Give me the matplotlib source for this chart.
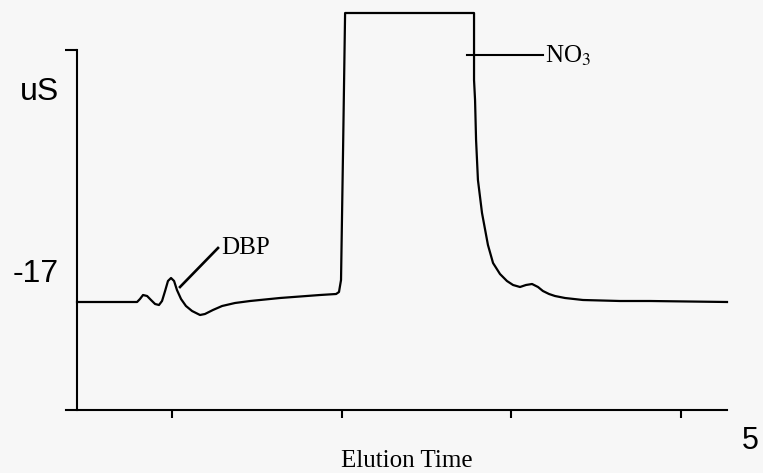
import matplotlib
matplotlib.use("Agg")
import matplotlib.pyplot as plt

# --- data (time in axis units, signal in arbitrary units)
time = [0.440, 0.794, 0.811, 0.829, 0.853, 0.876, 0.900, 0.923, 0.941, 0.959,
        0.976, 0.994, 1.012, 1.029, 1.053, 1.082, 1.118, 1.165, 1.194, 1.241,
        1.295, 1.371, 1.460, 1.636, 1.872, 1.967, 1.984, 1.996, 2.008, 2.020,
        2.780, 2.780, 2.786, 2.792, 2.803, 2.827, 2.862, 2.892, 2.933, 2.974,
        3.010, 3.051, 3.086, 3.122, 3.157, 3.186, 3.222, 3.257, 3.316, 3.422,
        3.640, 3.817, 4.271]
signal = [108, 108, 111, 115, 114, 110, 106, 105, 109, 119,
          129, 132, 129, 120, 111, 104, 99, 95, 96, 100,
          104, 107, 109, 112, 115, 116, 118, 130, 260, 397,
          397, 330, 310, 270, 230, 197, 165, 147, 136, 129,
          125, 123, 125, 126, 123, 119, 116, 114, 112, 110,
          109, 109, 108]
x_ticks = [1, 2, 3, 4]
y_label_value = "-17"
y_unit = "uS"
x_end_label = "5"
x_title = "Elution Time"
peak_labels = ["DBP", "NO$_3$"]

plt.rcParams["mathtext.fontset"] = "stix"

W, H = 763, 473
fig = plt.figure(figsize=(W / 100, H / 100), dpi=100)
bg = "#f7f7f7"
fig.patch.set_facecolor(bg)

ax = fig.add_axes([66 / W, (H - 410) / H, (727 - 66) / W, 360 / H])
ax.set_facecolor(bg)
ax.set_xlim(0.375, 4.271)
ax.set_ylim(0, 360)

ax.plot(time, signal, color="black", lw=1.6, clip_on=False, solid_joinstyle="round")

for s in ["top", "right"]:
    ax.spines[s].set_visible(False)
ax.spines["left"].set_position(("data", 0.440))
ax.spines["left"].set_bounds(0, 360)
for s in ["left", "bottom"]:
    ax.spines[s].set_linewidth(1.5)

ax.set_xticks(x_ticks)
ax.set_xticklabels([])
ax.tick_params(axis="x", direction="out", length=6, width=1.5)
ax.set_yticks([360])
ax.set_yticklabels([])
ax.tick_params(axis="y", direction="out", length=9, width=1.5)

# peak labels with leader lines
ax.plot([1.047, 1.271], [123, 162], color="black", lw=1.9, clip_on=False)
ax.text(1.290, 162, peak_labels[0], fontsize=18, family="Liberation Serif",
        va="center", ha="left")
ax.plot([2.739, 3.186], [355, 355], color="black", lw=1.5, clip_on=False)
ax.text(3.198, 354, peak_labels[1], fontsize=18, family="Liberation Serif",
        va="center", ha="left", clip_on=False)

def fx(px):
    return px / W

def fy(py):
    return 1 - py / H

sans = "Liberation Sans"
fig.text(fx(39), fy(92), y_unit, fontsize=23, family=sans, ha="center", va="center")
fig.text(fx(36), fy(274), y_label_value, fontsize=23, family=sans, ha="center", va="center")
fig.text(fx(750), fy(441), x_end_label, fontsize=22, family=sans, ha="center", va="center")
fig.text(fx(407), fy(461), x_title, fontsize=18, family="Liberation Serif",
         ha="center", va="center")

fig.savefig("out.png", dpi=100, facecolor=bg)
